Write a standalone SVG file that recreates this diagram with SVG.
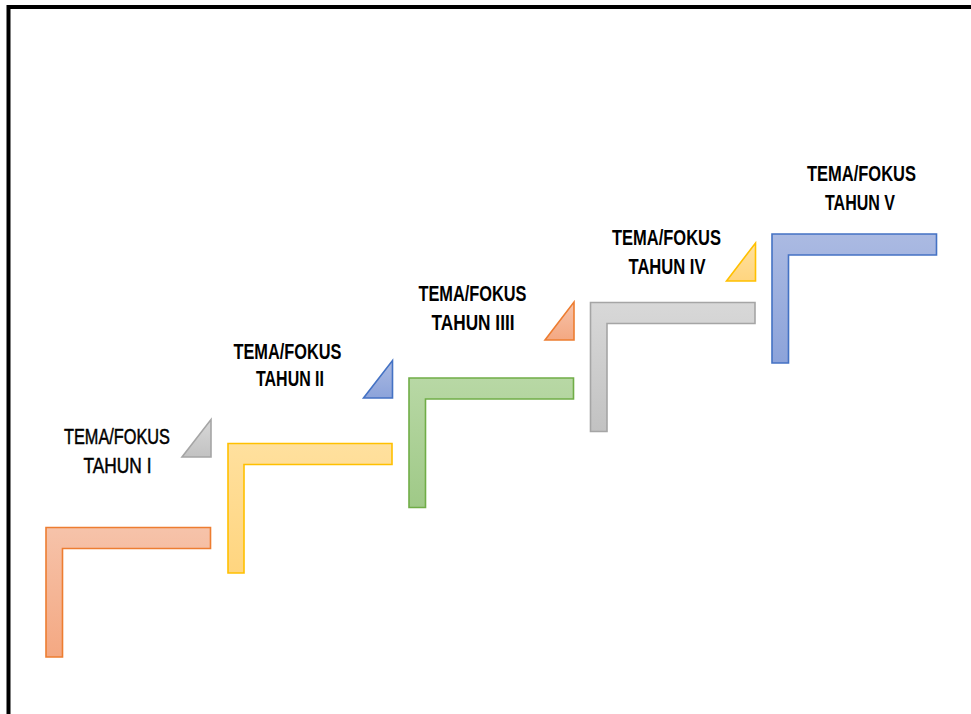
<svg xmlns="http://www.w3.org/2000/svg" width="971" height="714" viewBox="0 0 971 714">
<defs>
<linearGradient id="gO" x1="0" y1="0" x2="0" y2="1"><stop offset="0" stop-color="#F6C3AA"/><stop offset="1" stop-color="#F4A882"/></linearGradient>
<linearGradient id="gY" x1="0" y1="0" x2="0" y2="1"><stop offset="0" stop-color="#FFE09E"/><stop offset="1" stop-color="#FFD57F"/></linearGradient>
<linearGradient id="gG" x1="0" y1="0" x2="0" y2="1"><stop offset="0" stop-color="#B8D8A5"/><stop offset="1" stop-color="#9FC987"/></linearGradient>
<linearGradient id="gR" x1="0" y1="0" x2="0" y2="1"><stop offset="0" stop-color="#D8D8D8"/><stop offset="1" stop-color="#C2C2C2"/></linearGradient>
<linearGradient id="gB" x1="0" y1="0" x2="0" y2="1"><stop offset="0" stop-color="#ABBAE2"/><stop offset="1" stop-color="#8CA3DA"/></linearGradient>
</defs>
<style>
.t{font-family:"Liberation Sans",Arial,sans-serif;font-size:22px;font-weight:bold;fill:#000;text-anchor:middle}
.t1{font-weight:normal;stroke:#000;stroke-width:0.5}
.o{fill:url(#gO);stroke:#ED7D31;stroke-width:1.6}
.y{fill:url(#gY);stroke:#FFC000;stroke-width:1.6}
.g{fill:url(#gG);stroke:#70AD47;stroke-width:1.6}
.r{fill:url(#gR);stroke:#A5A5A5;stroke-width:1.6}
.b{fill:url(#gB);stroke:#4472C4;stroke-width:1.6}
</style>
<rect x="0" y="0" width="971" height="714" fill="#fff"/>
<path d="M8.5,714 V7 H971" fill="none" stroke="#000" stroke-width="4"/>
<g id="step1">
<path class="o" d="M46,527.5 H210.5 V548.5 H62.5 V657 H46 Z"/>
<polygon class="r" points="182,457 211,419.5 211,457"/>
<text class="t t1" x="117" y="444" textLength="106" lengthAdjust="spacingAndGlyphs">TEMA/FOKUS</text>
<text class="t t1" x="117.5" y="472.5" textLength="68" lengthAdjust="spacingAndGlyphs">TAHUN I</text>
</g>
<g id="step2">
<path class="y" d="M228,443.5 H392 V464.5 H244 V573 H228 Z"/>
<polygon class="b" points="363.5,398 392.5,360.5 392.5,398"/>
<text class="t" x="287.5" y="358.5" textLength="108" lengthAdjust="spacingAndGlyphs">TEMA/FOKUS</text>
<text class="t" x="290" y="386" textLength="68" lengthAdjust="spacingAndGlyphs">TAHUN II</text>
</g>
<g id="step3">
<path class="g" d="M409,378 H573.5 V399 H425.5 V507.5 H409 Z"/>
<polygon class="o" points="545,340 574,302 574,340"/>
<text class="t" x="472.5" y="300.5" textLength="108" lengthAdjust="spacingAndGlyphs">TEMA/FOKUS</text>
<text class="t" x="473" y="329.5" textLength="83" lengthAdjust="spacingAndGlyphs">TAHUN IIII</text>
</g>
<g id="step4">
<path class="r" d="M590.5,302.5 H755 V323.5 H607 V431.5 H590.5 Z"/>
<polygon class="y" points="726.5,281 755.5,243 755.5,281"/>
<text class="t" x="666.5" y="244.5" textLength="109" lengthAdjust="spacingAndGlyphs">TEMA/FOKUS</text>
<text class="t" x="667" y="273.5" textLength="77" lengthAdjust="spacingAndGlyphs">TAHUN IV</text>
</g>
<g id="step5">
<path class="b" d="M772,234 H936.5 V255 H788.5 V363 H772 Z"/>
<text class="t" x="861.5" y="180.5" textLength="109" lengthAdjust="spacingAndGlyphs">TEMA/FOKUS</text>
<text class="t" x="860" y="209.5" textLength="70" lengthAdjust="spacingAndGlyphs">TAHUN V</text>
</g>
<g id="connectors"/>
</svg>
